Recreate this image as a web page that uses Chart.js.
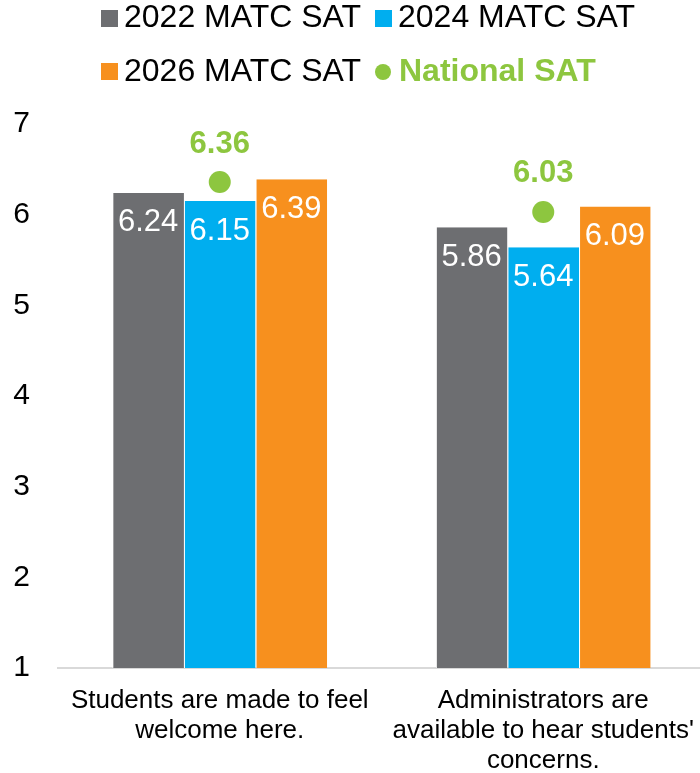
<!DOCTYPE html>
<html><head><meta charset="utf-8">
<script src="https://cdn.jsdelivr.net/npm/chart.js@4"></script>
<style>
html,body{margin:0;padding:0;background:#fff;overflow:hidden;width:700px;height:773px}
#wrap{position:relative;width:720px;height:773px}
canvas{position:absolute;left:0;top:0}
.lg{position:absolute;font-family:"Liberation Sans",Arial,sans-serif;font-size:32px;line-height:32px;color:#000;white-space:nowrap}
.bx{position:absolute;width:17px;height:17px}
</style></head><body>
<div id="wrap"><canvas id="c" width="716" height="773"></canvas><div id="legend"></div></div>
<script>
// ---- data ----
const categories = [["Students are made to feel", "welcome here."], ["Administrators are", "available to hear students'", "concerns."]];
const seriesNames = ["2022 MATC SAT", "2024 MATC SAT", "2026 MATC SAT", "National SAT"];
const matc2022 = [6.24, 5.86];
const matc2024 = [6.15, 5.64];
const matc2026 = [6.39, 6.09];
const nationalSat = [6.36, 6.03];
const yTicks = [1, 2, 3, 4, 5, 6, 7];

// ---- styles ----
const GREY = '#6d6e71', BLUE = '#00aeef', ORANGE = '#f7901e', GREEN = '#8dc63f';
const FONT = '"Liberation Sans", Arial, sans-serif';

// ---- HTML legend ----
const legendPos = [
  {box: [101, 10], text: [124, 0], color: GREY, type: 'box'},
  {box: [375, 10], text: [398, 0], color: BLUE, type: 'box'},
  {box: [101, 63], text: [124, 54], color: ORANGE, type: 'box'},
  {box: [375, 64], text: [399, 54], color: GREEN, type: 'dot'}
];
const lg = document.getElementById('legend');
seriesNames.forEach((name, i) => {
  const p = legendPos[i];
  const b = document.createElement('div');
  b.className = 'bx';
  b.style.left = p.box[0] + 'px'; b.style.top = p.box[1] + 'px';
  b.style.background = p.color;
  if (p.type === 'dot') { b.style.borderRadius = '50%'; b.style.width = '16px'; b.style.height = '16px'; }
  lg.appendChild(b);
  const t = document.createElement('div');
  t.className = 'lg';
  t.style.left = p.text[0] + 'px'; t.style.top = p.text[1] + 'px';
  t.textContent = name;
  if (p.type === 'dot') { t.style.color = GREEN; t.style.fontWeight = 'bold'; }
  lg.appendChild(t);
});

// ---- value labels plugin ----
const valueLabels = {
  id: 'valueLabels',
  afterDatasetsDraw(chart) {
    const ctx = chart.ctx;
    chart.data.datasets.forEach((ds, i) => {
      const meta = chart.getDatasetMeta(i);
      meta.data.forEach((el, j) => {
        const v = ds.data[j];
        ctx.save();
        ctx.textAlign = 'center';
        ctx.textBaseline = 'middle';
        if (ds.type === 'line') {
          ctx.font = 'bold 31px ' + FONT;
          ctx.fillStyle = GREEN;
          ctx.fillText(v.toFixed(2), el.x, el.y - 38);
        } else {
          ctx.font = '31px ' + FONT;
          ctx.fillStyle = '#ffffff';
          ctx.fillText(v.toFixed(2), el.x, el.y + 30);
        }
        ctx.restore();
      });
    });
  }
};

const barCommon = {barPercentage: 1, categoryPercentage: 0.664, borderWidth: {left: 1, right: 0, top: 0, bottom: 0}, borderColor: '#ffffff', borderSkipped: 'bottom'};

const chart = new Chart(document.getElementById('c'), {
  type: 'bar',
  data: {
    labels: categories,
    datasets: [
      {type: 'line', label: seriesNames[3], data: nationalSat, showLine: false, pointRadius: 11, pointHoverRadius: 11, pointBackgroundColor: GREEN, pointBorderWidth: 0, borderColor: GREEN, backgroundColor: GREEN},
      Object.assign({label: seriesNames[0], data: matc2022, backgroundColor: GREY}, barCommon),
      Object.assign({label: seriesNames[1], data: matc2024, backgroundColor: BLUE}, barCommon),
      Object.assign({label: seriesNames[2], data: matc2026, backgroundColor: ORANGE}, barCommon)
    ]
  },
  options: {
    responsive: false,
    animation: false,
    devicePixelRatio: 1,
    layout: {padding: {top: 124, left: 12, right: 0, bottom: 1}},
    plugins: {legend: {display: false}, tooltip: {enabled: false}},
    scales: {
      x: {
        grid: {display: false, drawTicks: false},
        border: {display: true, color: '#d9d9d9', width: 2},
        ticks: {color: '#000', font: {family: FONT, size: 26, lineHeight: 1.15}, padding: 18, maxRotation: 0, autoSkip: false},
        afterFit: (s) => { s.height = 104; s.paddingLeft = 0; s.paddingRight = 0; }
      },
      y: {
        min: 1, max: 7,
        grid: {display: false, drawTicks: false},
        border: {display: false},
        afterBuildTicks: (s) => { s.ticks = yTicks.map(v => ({value: v})); },
        ticks: {color: '#000', font: {family: FONT, size: 30}, padding: 28},
        afterFit: (s) => { s.width = 46; s.paddingTop = 0; s.paddingBottom = 0; }
      }
    }
  },
  plugins: [valueLabels]
});
</script>
</body></html>
